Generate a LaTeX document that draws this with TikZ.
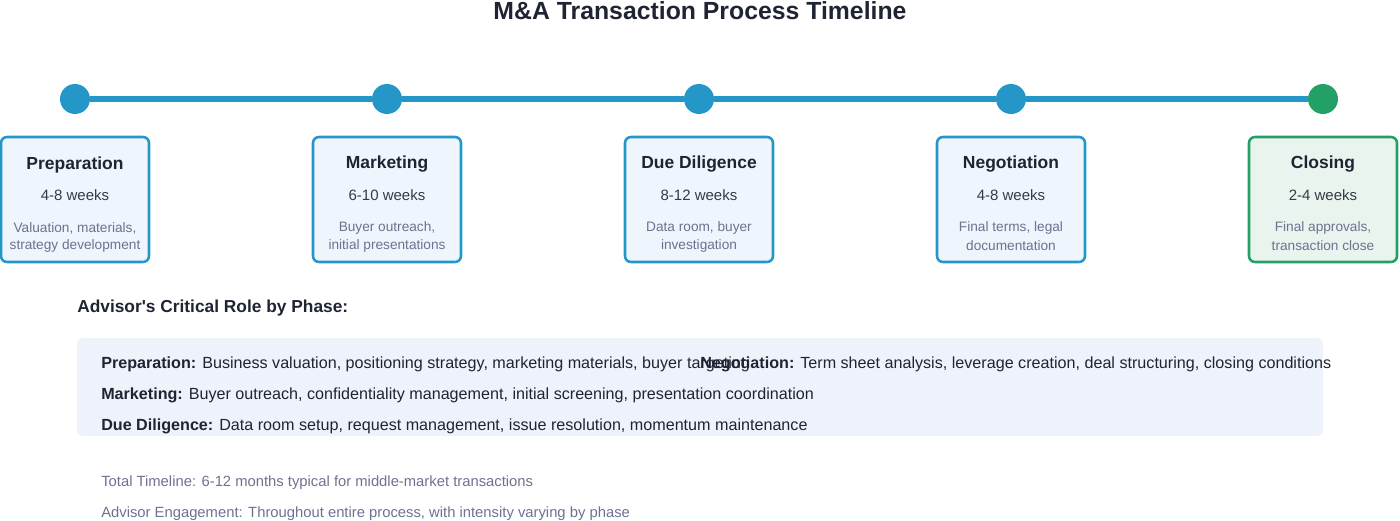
\documentclass[tikz,border=0pt]{standalone}
\usepackage{fontspec}
\setmainfont{Liberation Sans}
\definecolor{lineblue}{HTML}{2596C8}
\definecolor{dotgreen}{HTML}{23A065}
\definecolor{boxblue}{HTML}{EFF5FC}
\definecolor{boxgreen}{HTML}{E9F4EE}
\definecolor{inkdark}{HTML}{1F2433}
\definecolor{inkgrey}{HTML}{6E7190}
\definecolor{panelblue}{HTML}{EEF3FB}

\begin{document}
\begin{tikzpicture}[x=0.75pt,y=-0.75pt,
	phasedot/.style={circle, inner sep=0pt, minimum size=22.5pt},
	phasebox/.style={rectangle, rounded corners=4.5pt, line width=1.9pt, minimum width=111pt, minimum height=93.75pt},
	roletext/.style={anchor=west, inner sep=0pt, font=\fontsize{12.1}{14}\selectfont, text=inkdark}]

\useasboundingbox (0,0) rectangle (1400,521);

% Title
\node (title) at (700,11) {\fontsize{18.6}{22}\selectfont\bfseries\color{inkdark} M\&A Transaction Process Timeline};

%% PHASES
% Dots and boxes
\foreach \i/\x/\bd/\bg/\ttl/\wk/\da/\db in {
	1/75/lineblue/boxblue/Preparation/4-8 weeks/{Valuation, materials,}/{strategy development},
	2/387/lineblue/boxblue/Marketing/6-10 weeks/{Buyer outreach,}/{initial presentations},
	3/699/lineblue/boxblue/Due Diligence/8-12 weeks/{Data room, buyer}/{investigation},
	4/1011/lineblue/boxblue/Negotiation/4-8 weeks/{Final terms, legal}/{documentation},
	5/1323/dotgreen/boxgreen/Closing/2-4 weeks/{Final approvals,}/{transaction close}}
{
	\node[phasedot, fill=\bd] (p\i) at (\x,99) {};
	\node[phasebox, draw=\bd, fill=\bg] (b\i) at (\x,199.5) {};
	\node (t\i) at (\x,164.5) {\fontsize{13.1}{15}\selectfont\bfseries\color{inkdark}\ttl};
	\node (w\i) at (\x,195) {\fontsize{11.25}{13}\selectfont\color{inkdark!90}\wk};
	\node (d\i) at (\x,228) {\fontsize{10.25}{12}\selectfont\color{inkgrey}\da};
	\node (e\i) at (\x,246) {\fontsize{10.25}{12}\selectfont\color{inkgrey}\db};
}

% Timeline
\foreach \a/\b in {p1/p2, p2/p3, p3/p4, p4/p5}
{
	\draw[lineblue, line width=3.8pt] (\a) -- (\b);
}

%% ADVISOR ROLES
\node[anchor=west, inner sep=0pt] (rolehead) at (77,308) {\fontsize{13}{15}\selectfont\bfseries\color{inkdark} Advisor\textquotesingle s Critical Role by Phase:};

% Panel
\fill[panelblue, rounded corners=4pt] (77,338) rectangle (1323,436);

\node[roletext] (r1) at (101,364) {\textbf{Preparation:} Business valuation, positioning strategy, marketing materials, buyer targeting};
\node[roletext] (r2) at (101,395) {\textbf{Marketing:} Buyer outreach, confidentiality management, initial screening, presentation coordination};
\node[roletext] (r3) at (101,426) {\textbf{Due Diligence:} Data room setup, request management, issue resolution, momentum maintenance};
\node[roletext] (r4) at (700,364) {\textbf{Negotiation:} Term sheet analysis, leverage creation, deal structuring, closing conditions};

% Notes
\node[anchor=west, inner sep=0pt] (note1) at (101,482.5) {\fontsize{11.1}{13}\selectfont\color{inkgrey} Total Timeline: 6-12 months typical for middle-market transactions};
\node[anchor=west, inner sep=0pt] (note2) at (101,513.5) {\fontsize{11.1}{13}\selectfont\color{inkgrey} Advisor Engagement: Throughout entire process, with intensity varying by phase};
\end{tikzpicture}
\end{document}
